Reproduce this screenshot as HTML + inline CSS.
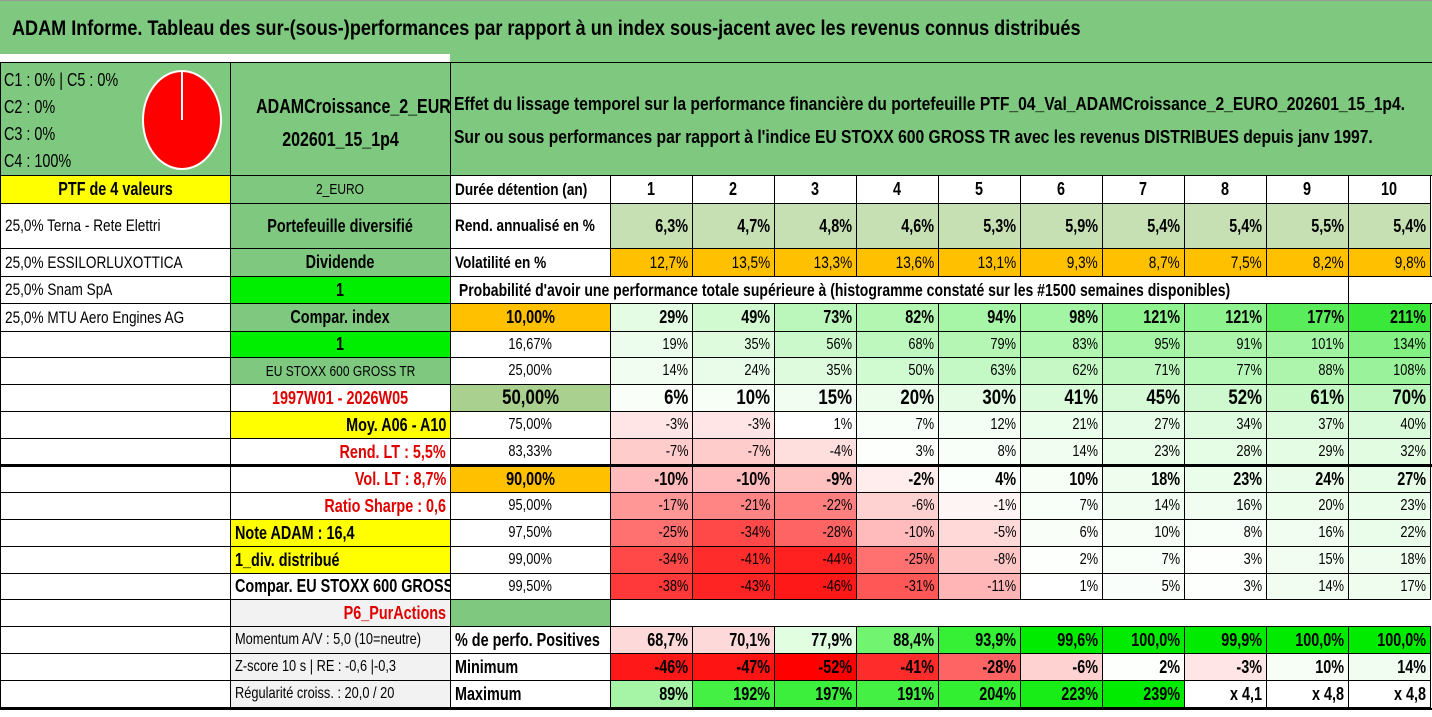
<!DOCTYPE html>
<html><head><meta charset="utf-8">
<style>
*{box-sizing:border-box;margin:0;padding:0}
body{width:1432px;height:717px;background:#fff;position:relative;overflow:hidden;font-family:"Liberation Sans Narrow","Liberation Sans",sans-serif;color:#000}
#title{position:absolute;left:0;top:0;width:1432px;height:54px;background:#7ec87f;font-weight:bold;font-size:21px;padding:16px 0 0 12px;border-top:1px solid #999}
#title span{display:inline-block;transform:scaleX(0.86);transform-origin:left center}
#strip{position:absolute;left:450px;top:54px;width:982px;height:8px;background:#7ec87f}
.c{position:absolute;border:1px solid #000;overflow:hidden;white-space:nowrap;font-size:14px;display:flex;align-items:center;padding:0 4px}
.c>span{display:inline-block;transform:scaleX(0.8);transform-origin:left center}
.r{justify-content:flex-end}
.r>span{transform-origin:right center}
.m{justify-content:center}
.m>span{transform-origin:center center}
.b{font-weight:bold;font-size:16px}
.g{background:#7ec87f}.y{background:#ffff00}.o{background:#ffc000}.lg{background:#00ee00}.gr{background:#f2f2f2}
.red{color:#e00000}
#bottom{position:absolute;left:0;top:708px;width:1432px;height:9px;background:#fff;border-top:2px solid #000}
</style></head><body>
<div id="title"><span>ADAM Informe. Tableau des sur-(sous-)performances par rapport à un index sous-jacent avec les revenus connus distribués</span></div>
<div id="strip"></div>
<div id="grid"></div>
<div id="bottom"></div>
<script>
const durations=["1","2","3","4","5","6","7","8","9","10"];
const rendAnn=[6.3,4.7,4.8,4.6,5.3,5.9,5.4,5.4,5.5,5.4];
const volat=[12.7,13.5,13.3,13.6,13.1,9.3,8.7,7.5,8.2,9.8];
const quantiles=["10,00%","16,67%","25,00%","50,00%","75,00%","83,33%","90,00%","95,00%","97,50%","99,00%","99,50%"];
const q10=[29,49,73,82,94,98,121,121,177,211];
const q16=[19,35,56,68,79,83,95,91,101,134];
const q25=[14,24,35,50,63,62,71,77,88,108];
const q50=[6,10,15,20,30,41,45,52,61,70];
const q75=[-3,-3,1,7,12,21,27,34,37,40];
const q83=[-7,-7,-4,3,8,14,23,28,29,32];
const q90=[-10,-10,-9,-2,4,10,18,23,24,27];
const q95=[-17,-21,-22,-6,-1,7,14,16,20,23];
const q97=[-25,-34,-28,-10,-5,6,10,8,16,22];
const q99=[-34,-41,-44,-25,-8,2,7,3,15,18];
const q995=[-38,-43,-46,-31,-11,1,5,3,14,17];
const pctPos=[68.7,70.1,77.9,88.4,93.9,99.6,100.0,99.9,100.0,100.0];
const minimum=[-46,-47,-52,-41,-28,-6,2,-3,10,14];
const maximum=["89%","192%","197%","191%","204%","223%","239%","x 4,1","x 4,8","x 4,8"];

const G=document.getElementById('grid');
const colX=[0,230,450,610,692,774,856,938,1020,1102,1184,1266,1348,1432];
function cell(x,y,w,h,cls,txt,name,style,raw){
  const d=document.createElement('div');
  d.className='c '+(cls||'');
  d.style.left=x+'px';d.style.top=y+'px';d.style.width=(w+1)+'px';d.style.height=(h+1)+'px';
  if(style)d.style.cssText+=style;
  if(raw)d.innerHTML=txt;else if(txt)d.innerHTML='<span>'+txt+'</span>';
  
  
  G.appendChild(d);return d;
}
function fr(v,dec){return v.toFixed(dec).replace('.',',')+'%';}
function mix(a,b,t){return 'rgb('+a.map((x,i)=>Math.round(x+(b[i]-x)*t)).join(',')+')';}
function heat(v){
  if(v>=0){const t=Math.min(v/230,1);return mix([255,255,255],[40,230,40],t);}
  const t=Math.min(-v/52,1);return mix([255,255,255],[255,0,0],Math.pow(t,0.8));
}
const H0=62,H1=175;
cell(0,H0,230,H1-H0,'g','<div style="transform:scaleX(0.8);transform-origin:left top;line-height:27px">C1 : 0% | C5 : 0%<br>C2 : 0%<br>C3 : 0%<br>C4 : 100%</div><svg style="position:absolute;left:138px;top:4px" width="86" height="106"><ellipse cx="43" cy="53" rx="39" ry="49" fill="#f00" stroke="#fff" stroke-width="2"/><line x1="43" y1="4" x2="43" y2="53" stroke="#fff" stroke-width="2"/></svg>','composition-cell','display:block;padding:4px 3px;font-size:18px',true);
cell(230,H0,220,H1-H0,'g b','<div style="transform:scaleX(0.8);transform-origin:center top;text-align:center;line-height:33px">ADAMCroissance_2_EURO_<br>202601_15_1p4</div>','portfolio-name','display:block;padding-top:28px;font-size:20px',true);
cell(450,H0,982,H1-H0,'g b',"<div style=\"transform:scaleX(0.86);transform-origin:left top;line-height:33px\">Effet du lissage temporel sur la performance financière du portefeuille PTF_04_Val_ADAMCroissance_2_EURO_202601_15_1p4.<br>Sur ou sous performances par rapport à l'indice EU STOXX 600 GROSS TR avec les revenus DISTRIBUES depuis janv 1997.</div>",'chart-description','display:block;padding:25px 3px 0;font-size:18.2px',true);
let y=175,h=28;
cell(0,y,230,h,'y m b','PTF de 4 valeurs','ptf-count','font-size:18px');
cell(230,y,220,h,'g m','2_EURO','currency','font-size:15px');
cell(450,y,160,h,'b','Durée détention (an)','duration-label','font-size:17px');
durations.forEach((d,i)=>cell(colX[i+3],y,82,h,'m b',d,'duration-'+d,'font-size:18px'));
y=203;h=45;
cell(0,y,230,h,'','25,0% Terna - Rete Elettri','holding-terna','font-size:17px');
cell(230,y,220,h,'g m b','Portefeuille diversifié','portfolio-type','font-size:18px');
cell(450,y,160,h,'b','Rend. annualisé en %','return-label','font-size:17px');
rendAnn.forEach((v,i)=>cell(colX[i+3],y,82,h,'r b',fr(v,1),'return-'+durations[i],'background:#c6e0b4;font-size:18px'));
y=248;h=28;
cell(0,y,230,h,'','25,0% ESSILORLUXOTTICA','holding-essilor','font-size:17px');
cell(230,y,220,h,'g m b','Dividende','dividend-label','font-size:18px');
cell(450,y,160,h,'b','Volatilité en %','volatility-label','font-size:17px');
volat.forEach((v,i)=>cell(colX[i+3],y,82,h,'r o',fr(v,1),'volatility-'+durations[i],'font-size:17px'));
y=276;h=27;
cell(0,y,230,h,'','25,0% Snam SpA','holding-snam','font-size:17px');
cell(230,y,220,h,'lg m b','1','dividend-flag','font-size:18px');
cell(450,y,898,h,'b','&nbsp;Probabilité d\'avoir une performance totale supérieure à (histogramme constaté sur les #1500 semaines disponibles)','probability-caption','font-size:17.5px');
cell(1348,y,84,h,'','','empty-cell');
y=303;h=28;
cell(0,y,230,h,'','25,0% MTU Aero Engines AG','holding-mtu','font-size:17px');
cell(230,y,220,h,'g m b','Compar. index','compar-index','font-size:18px');
const rowsB=[
 ['lg m b','1','index-flag'],
 ['g m','EU STOXX 600 GROSS TR','index-name'],
 ['m red b','1997W01 - 2026W05','period'],
 ['y r b','Moy. A06 - A10','average-label'],
 ['r red b','Rend. LT : 5,5%','long-term-return'],
 ['r red b','Vol. LT : 8,7%','long-term-volatility'],
 ['r red b','Ratio Sharpe : 0,6','sharpe-ratio'],
 ['y b','Note ADAM : 16,4','adam-score'],
 ['y b','1_div. distribué','dividend-distributed'],
 ['b','Compar. EU STOXX 600 GROSS TR','comparison-index'],
 ['gr r red b','P6_PurActions','profile'],
 ['gr','Momentum A/V : 5,0 (10=neutre)','momentum'],
 ['gr','Z-score 10 s | RE : -0,6 |-0,3','z-score'],
 ['gr','Régularité croiss. : 20,0 / 20','regularity']
];
const qRows=[q10,q16,q25,q50,q75,q83,q90,q95,q97,q99,q995];
const boldQ=[0,3,6];
const rowY=[303,331,357,384,411,438,465,492,519,546,573,599,626,653,680,707];
qRows.forEach((arr,r)=>{
  const yy=rowY[r],hh=rowY[r+1]-yy;
  let cls='m'+(boldQ.includes(r)?' b':'');
  let st='font-size:16px;';
  if(r===0||r===6)st+='background:#ffc000;font-size:18px;';
  if(r===3)st+='background:#a9d08e;font-size:21px;';
  cell(450,yy,160,hh,cls,quantiles[r],'quantile-'+quantiles[r],st);
  arr.forEach((v,i)=>{
    let s='background:'+heat(v)+';'+(r===3?'font-size:21px;':(boldQ.includes(r)?'font-size:18px;':'font-size:16px;'));
    cell(colX[i+3],yy,82,hh,'r'+(boldQ.includes(r)?' b':''),v+'%','q'+r+'-d'+durations[i],s);
  });
});
rowsB.forEach((rb,k)=>{
  const yy=rowY[k+1],hh=rowY[k+2]-yy;
  cell(0,yy,230,hh,'','','left-empty-'+k);
  let fs=k>=11?'font-size:16px;':(k===1?'font-size:15px;':'font-size:18px;');
  cell(230,yy,220,hh,rb[0],rb[1],rb[2],fs);
});
cell(450,599,160,27,'g','','profile-swatch');
const tb=document.createElement('div');tb.style.cssText='position:absolute;left:0;top:464px;width:1432px;height:3px;background:#000';


G.appendChild(tb);
cell(450,626,160,27,'b','% de perfo. Positives','positive-label','font-size:18px');
cell(450,653,160,27,'b','Minimum','minimum-label','font-size:18px');
cell(450,680,160,27,'b','Maximum','maximum-label','font-size:18px');
pctPos.forEach((v,i)=>{
  let bg;
  if(v<75)bg='#fdd9d9';else bg=mix([235,255,235],[0,235,0],Math.min((v-77)/22,1));
  cell(colX[i+3],626,82,27,'r b',fr(v,1),'positive-'+durations[i],'background:'+bg+';font-size:18px');
});
minimum.forEach((v,i)=>cell(colX[i+3],653,82,27,'r b',v+'%','minimum-'+durations[i],'background:'+heat(v)+';font-size:18px'));
maximum.forEach((v,i)=>{
  let bg='#fff';
  if(v.indexOf('x')<0){const n=parseFloat(v);bg=n<100?'#a6f5a6':mix([70,240,70],[0,235,0],Math.min((n-190)/50,1));}
  cell(colX[i+3],680,82,27,'r b',v,'maximum-'+durations[i],'background:'+bg+';font-size:18px');
});
</script>
</body></html>
